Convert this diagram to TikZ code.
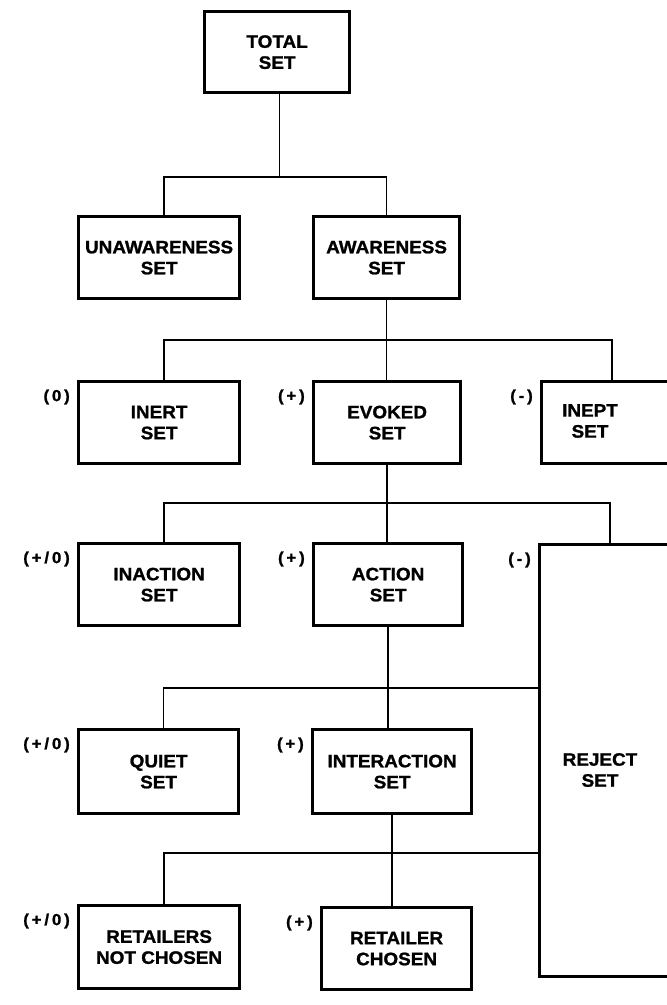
\documentclass[tikz,border=0pt]{standalone}
\usepackage{fontspec}
\newfontfamily\boxfont[FakeStretch=1.05,FakeBold=1.2]{Liberation Sans}
\newfontfamily\labfont[FakeStretch=1.05,FakeBold=1.2,LetterSpace=18]{Liberation Sans}
\begin{document}
\begin{tikzpicture}[x=1pt,y=-1pt,
  box/.style={draw, line width=3.2pt, inner sep=0pt, anchor=north west, align=center,
    font=\boxfont\bfseries\fontsize{18}{21}\selectfont},
  txt/.style={inner sep=0pt, align=center, font=\boxfont\bfseries\fontsize{18}{21}\selectfont},
  lab/.style={inner sep=0pt, anchor=east, font=\labfont\bfseries\fontsize{16}{18}\selectfont},
  conn/.style={line width=1.6pt}]
\useasboundingbox (0,0) rectangle (667,1005);
\clip (0,0) rectangle (667,1005);
% boxes
\node[box, minimum width=145pt, minimum height=81pt] (total) at (203,10) {TOTAL\\SET};
\node[box, minimum width=161pt, minimum height=82pt] (unaw) at (77,215) {UNAWARENESS\\SET};
\node[box, minimum width=146pt, minimum height=82pt] (aw) at (312,215) {AWARENESS\\SET};
\node[box, minimum width=161pt, minimum height=82pt] (inert) at (77,380) {INERT\\SET};
\node[box, minimum width=147pt, minimum height=82pt] (evoked) at (312,380) {EVOKED\\SET};
\node[box, minimum width=160pt, minimum height=82pt] (inept) at (540,380) {};
\node[txt] (ineptt) at (590,421) {INEPT\\SET};
\node[box, minimum width=161pt, minimum height=82pt] (inaction) at (77,542) {INACTION\\SET};
\node[box, minimum width=149pt, minimum height=82pt] (action) at (312,542) {ACTION\\SET};
\node[box, minimum width=170pt, minimum height=432pt] (reject) at (538,543) {};
\node[txt] (rejectt) at (600,770) {REJECT\\SET};
\node[box, minimum width=160pt, minimum height=84pt] (quiet) at (77,728) {QUIET\\SET};
\node[box, minimum width=159pt, minimum height=84pt] (interaction) at (311,728) {INTERACTION\\SET};
\node[box, minimum width=161pt, minimum height=83pt] (rnc) at (77,904) {RETAILERS\\NOT CHOSEN};
\node[box, minimum width=150pt, minimum height=82pt] (rc) at (320,906) {RETAILER\\CHOSEN};
% bus levels
\coordinate (b1) at (0,177);
\coordinate (b2) at (0,340);
\coordinate (b3) at (0,503);
\coordinate (b4) at (0,688);
\coordinate (b5) at (0,853);
\coordinate (ineptc) at ([xshift=72pt]inept.north west);
\coordinate (rejc) at ([xshift=72pt]reject.north west);
% connectors
\draw[conn] ([xshift=2.5pt]total.south) -- ([xshift=2.5pt]total.south |- b1);
\draw[conn] ([xshift=5pt]unaw.north) |- (aw.north |- b1) -- (aw.north);
\draw[conn] (aw.south) -- (aw.south |- evoked.north);
\draw[conn] ([xshift=5pt]inert.north) |- (ineptc |- b2) -- (ineptc);
\draw[conn] (evoked.south) -- (evoked.south |- action.north);
\draw[conn] ([xshift=5pt]inaction.north) |- (rejc |- b3) -- (rejc);
\draw[conn] (action.south) -- (action.south |- interaction.north);
\draw[conn] ([xshift=5pt]quiet.north) |- (reject.west |- b4);
\draw[conn] (interaction.south) -- (interaction.south |- rc.north);
\draw[conn] ([xshift=5pt]rnc.north) |- (reject.west |- b5);
% labels
\node[lab] (l1) at ([xshift=-7pt,yshift=-17pt]inert.north west) {(0)};
\node[lab] (l2) at ([xshift=-7pt,yshift=-17pt]evoked.north west) {(+)};
\node[lab] (l3) at ([xshift=-7pt,yshift=-17pt]inept.north west) {(-)};
\node[lab] (l4) at ([xshift=-7pt,yshift=-17pt]inaction.north west) {(+/0)};
\node[lab] (l5) at ([xshift=-7pt,yshift=-17pt]action.north west) {(+)};
\node[lab] (l6) at ([xshift=-7pt,yshift=-17pt]reject.north west) {(-)};
\node[lab] (l7) at ([xshift=-7pt,yshift=-17pt]quiet.north west) {(+/0)};
\node[lab] (l8) at ([xshift=-7pt,yshift=-17pt]interaction.north west) {(+)};
\node[lab] (l9) at ([xshift=-7pt,yshift=-17pt]rnc.north west) {(+/0)};
\node[lab] (l10) at ([xshift=-7pt,yshift=-17pt]rc.north west) {(+)};
\end{tikzpicture}
\end{document}
